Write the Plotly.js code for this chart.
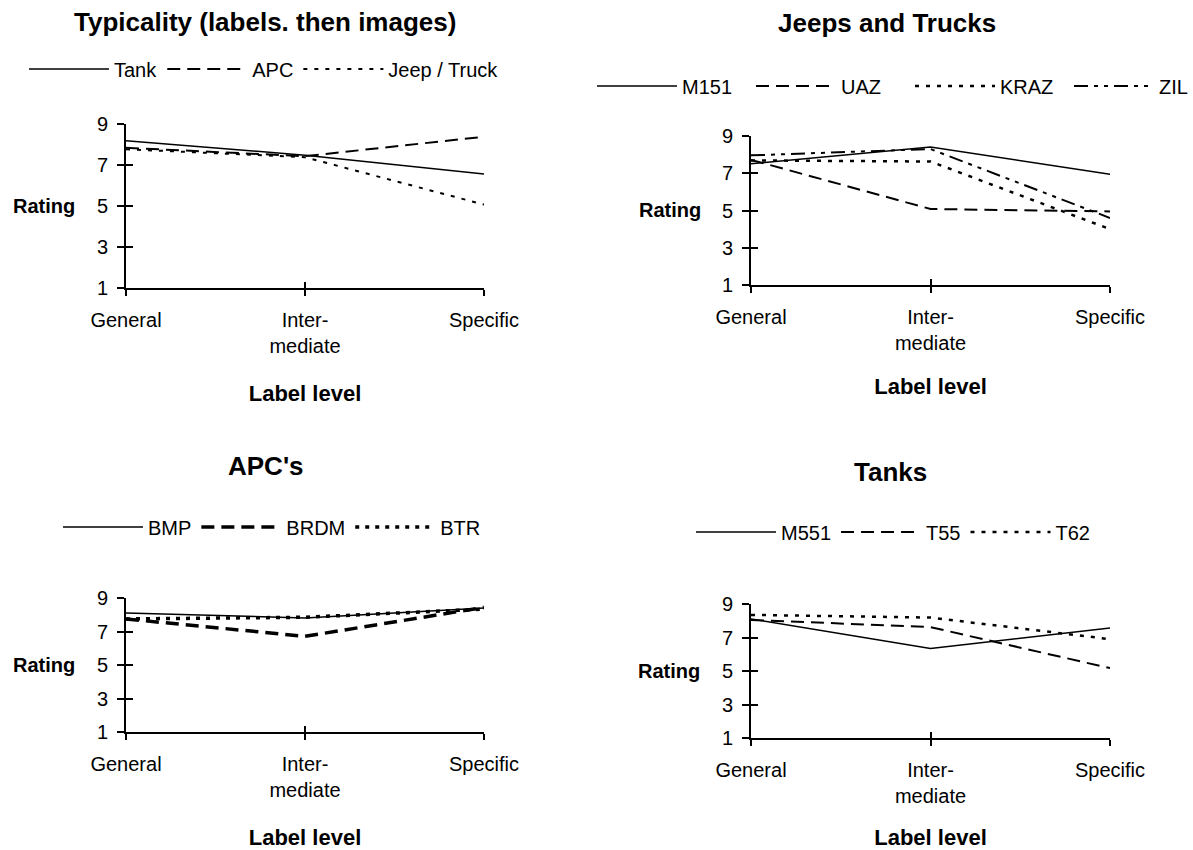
<!DOCTYPE html>
<html>
<head>
<meta charset="utf-8">
<script src="https://cdn.plot.ly/plotly-3.0.1.min.js"></script>
<style>html,body{margin:0;padding:0;background:#fff;}#chart{width:1193px;height:850px;}</style>
</head>
<body>
<div id="chart"></div>
<script>
// ---- data ----
const levels = ['General', 'Intermediate', 'Specific'];
const levelLabels = ['General', 'Inter-<br>mediate', 'Specific'];
const ratingTicks = [1, 3, 5, 7, 9];

const panelTitles = ['Typicality (labels. then images)', 'Jeeps and Trucks', "APC's", 'Tanks'];

// Panel 1: Typicality
const typNames = ['Tank', 'APC', 'Jeep / Truck'];
const typTank = [8.18, 7.48, 6.56];
const typAPC = [7.84, 7.43, 8.38];
const typJeepTruck = [7.77, 7.38, 5.07];

// Panel 2: Jeeps and Trucks
const jtNames = ['M151', 'UAZ', 'KRAZ', 'ZIL'];
const jtM151 = [7.51, 8.41, 6.95];
const jtUAZ = [7.72, 5.08, 4.95];
const jtKRAZ = [7.69, 7.63, 4.0];
const jtZIL = [7.96, 8.3, 4.6];

// Panel 3: APC's
const apcNames = ['BMP', 'BRDM', 'BTR'];
const apcBMP = [8.1, 7.81, 8.4];
const apcBRDM = [7.75, 6.71, 8.44];
const apcBTR = [7.75, 7.85, 8.34];

// Panel 4: Tanks
const tkNames = ['M551', 'T55', 'T62'];
const tkM551 = [8.11, 6.35, 7.56];
const tkT55 = [8.05, 7.62, 5.17];
const tkT62 = [8.35, 8.19, 6.9];

// ---- helpers ----
const W = 1193, H = 850;
const X = px => px / W;
const Y = py => 1 - py / H;
const FONT = 'Liberation Sans, Arial, Helvetica, sans-serif';

const SOLID = 'solid';
const LONGDASH = '13px,7px';
const SHORTDOT = '4px,7px';
const DASHDOTDOT = '14px,6px,4px,6px,4px,6px';

function tr(y, name, idx, dash, width) {
  const s = idx === 1 ? '' : String(idx);
  return {
    type: 'scatter', mode: 'lines', x: levels, y: y, name: name,
    xaxis: 'x' + s, yaxis: 'y' + s, legend: 'legend' + s,
    line: {color: '#000', width: width, dash: dash},
    hoverinfo: 'x+y+name'
  };
}

const traces = [
  tr(typTank, typNames[0], 1, SOLID, 1.5),
  tr(typAPC, typNames[1], 1, LONGDASH, 2),
  tr(typJeepTruck, typNames[2], 1, SHORTDOT, 2),
  tr(jtM151, jtNames[0], 2, SOLID, 1.5),
  tr(jtUAZ, jtNames[1], 2, LONGDASH, 2),
  tr(jtKRAZ, jtNames[2], 2, SHORTDOT, 2.5),
  tr(jtZIL, jtNames[3], 2, DASHDOTDOT, 2),
  tr(apcBMP, apcNames[0], 3, SOLID, 1.5),
  tr(apcBRDM, apcNames[1], 3, LONGDASH, 3.5),
  tr(apcBTR, apcNames[2], 3, '4px,6px', 3.5),
  tr(tkM551, tkNames[0], 4, SOLID, 1.5),
  tr(tkT55, tkNames[1], 4, LONGDASH, 2),
  tr(tkT62, tkNames[2], 4, SHORTDOT, 2.5)
];

// panel geometry (pixels): [xLeft, xRight, yTop(9), yBottom(1)]
const geom = [
  [126, 484, 124, 288],
  [751, 1110, 136, 285],
  [126, 484, 598, 732],
  [751, 1110, 604, 738]
];
const titlePos = [[265, 22], [887, 23], [266, 466], [890, 472]];
const ratingPos = [[77, 206], [703, 210], [77, 665], [702, 671]];
const legendPos = [[24, 69], [592, 86], [58, 527], [691, 532]];
const titleStandoff = [30, 26, 30, 34];
const legendEntryWidth = [0, 64, 0, 0];

const layout = {
  width: W, height: H,
  margin: {l: 0, r: 0, t: 0, b: 0, autoexpand: false},
  paper_bgcolor: '#fff', plot_bgcolor: '#fff',
  font: {family: FONT, color: '#000', size: 20},
  showlegend: true,
  annotations: [],
  hovermode: 'closest'
};

geom.forEach((g, i) => {
  const n = i + 1;
  const s = n === 1 ? '' : String(n);
  const o = String(n + 4);
  const xd = [X(g[0]), X(g[1])];
  const yd = [Y(g[3]), Y(g[2])];
  layout['xaxis' + s] = {
    domain: xd, anchor: 'y' + s, type: 'category', categoryarray: levels,
    range: [0, 2], tickvals: levels, ticktext: levelLabels,
    ticks: 'outside', ticklen: 6, tickwidth: 2, tickcolor: '#000',
    showline: true, linecolor: '#000', linewidth: 2,
    showgrid: false, zeroline: false, fixedrange: true, automargin: false,
    tickfont: {size: 20, family: FONT, color: '#000'},
    ticklabelstandoff: 7,
    title: {text: 'Label level', font: {size: 22, family: FONT, weight: 'bold', color: '#000'}, standoff: titleStandoff[i]}
  };
  layout['yaxis' + s] = {
    domain: yd, anchor: 'x' + s, range: [1, 9], tickvals: ratingTicks,
    ticks: 'outside', ticklen: 7, tickwidth: 2, tickcolor: '#000',
    showline: true, linecolor: '#000', linewidth: 2,
    showgrid: false, zeroline: false, fixedrange: true, automargin: false,
    tickfont: {size: 20, family: FONT, color: '#000'},
    ticklabelstandoff: 5
  };
  // overlay axes to make tick marks cross the axis lines
  layout['xaxis' + o] = {
    overlaying: 'x' + s, anchor: 'y' + s, range: [0, 2], tickvals: [0, 1, 2],
    ticks: 'inside', ticklen: 6, tickwidth: 2, tickcolor: '#000',
    showticklabels: false, showline: false, showgrid: false, zeroline: false, fixedrange: true
  };
  layout['yaxis' + o] = {
    overlaying: 'y' + s, anchor: 'x' + s, range: [1, 9], tickvals: ratingTicks,
    ticks: 'inside', ticklen: 7, tickwidth: 2, tickcolor: '#000',
    showticklabels: false, showline: false, showgrid: false, zeroline: false, fixedrange: true
  };
  const leg = {
    orientation: 'h', x: X(legendPos[i][0]), xanchor: 'left',
    y: Y(legendPos[i][1]), yanchor: 'middle',
    itemwidth: 80, bgcolor: 'rgba(0,0,0,0)', borderwidth: 0,
    font: {size: 20, family: FONT, color: '#000'}, traceorder: 'normal',
    itemclick: false, itemdoubleclick: false
  };
  if (legendEntryWidth[i]) { leg.entrywidth = legendEntryWidth[i]; leg.entrywidthmode = 'pixels'; }
  layout['legend' + s] = leg;
  layout.annotations.push({
    text: panelTitles[i], xref: 'paper', yref: 'paper',
    x: X(titlePos[i][0]), y: Y(titlePos[i][1]), xanchor: 'center', yanchor: 'middle',
    showarrow: false, font: {size: 26, family: FONT, weight: 'bold', color: '#000'}
  });
  layout.annotations.push({
    text: 'Rating', xref: 'paper', yref: 'paper',
    x: X(ratingPos[i][0]), y: Y(ratingPos[i][1]), xanchor: 'right', yanchor: 'middle',
    showarrow: false, font: {size: 20, family: FONT, weight: 'bold', color: '#000'}
  });
});

// empty helper traces so overlay axes are drawn
for (let n = 5; n <= 8; n++) {
  traces.push({type: 'scatter', mode: 'lines', x: [], y: [], xaxis: 'x' + n, yaxis: 'y' + n,
    showlegend: false, hoverinfo: 'skip'});
}

Plotly.newPlot('chart', traces, layout, {displayModeBar: false});
</script>
</body>
</html>
